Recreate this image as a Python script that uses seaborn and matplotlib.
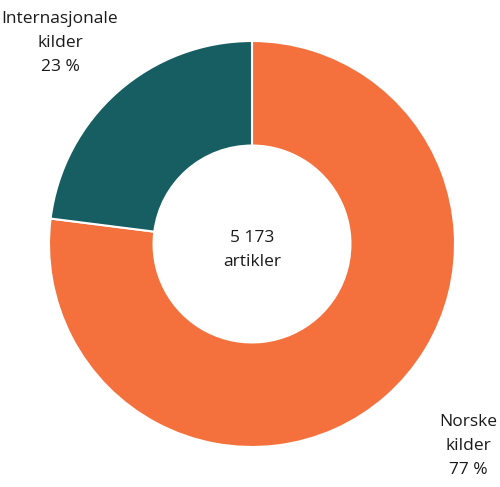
import matplotlib
matplotlib.use("Agg")
import matplotlib.pyplot as plt
import seaborn as sns

categories = ["Norske\nkilder", "Internasjonale\nkilder"]
shares = [77, 23]
total_label = "5 173\nartikler"
colors = ["#F4713D", "#175E62"]

sns.set_theme(style="white")
plt.rcParams["font.family"] = ["Open Sans", "DejaVu Sans"]

W, H = 500, 487
fig = plt.figure(figsize=(W / 100, H / 100), dpi=100)
ax = fig.add_axes([0, 0, 1, 1])

# donut centred at (252, 244) px, outer radius ~203 px
cx, cy, r = 252, 244, 203
ax.pie(shares, colors=colors, startangle=90, counterclock=False,
       radius=1, wedgeprops=dict(width=0.515, edgecolor="white", linewidth=1.5))
ax.set_xlim(-cx / r, (W - cx) / r)
ax.set_ylim(-(H - cy) / r, cy / r)
ax.set_aspect("equal")
ax.axis("off")

txt = dict(fontsize=12.5, linespacing=1.65, color="#1a1a1a", ha="center", va="center")
ax.text(0, -0.03, total_label, **txt)

fig.text(60 / W, 1 - 43 / H, f"{categories[1]}\n{shares[1]} %", **txt)
fig.text(468 / W, 1 - 446 / H, f"{categories[0]}\n{shares[0]} %", **txt)

fig.savefig("out.png", dpi=100)
